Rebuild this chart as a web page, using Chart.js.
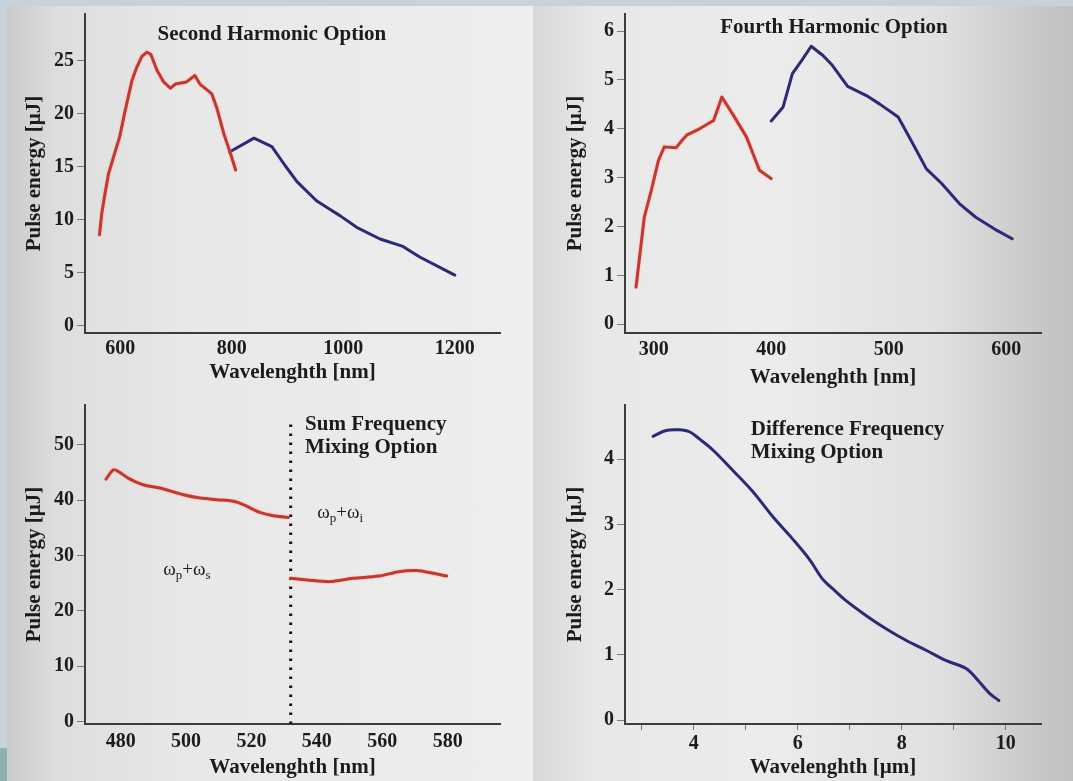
<!DOCTYPE html>
<html>
<head>
<meta charset="utf-8">
<script src="https://cdn.jsdelivr.net/npm/chart.js@4.4.1/dist/chart.umd.min.js"></script>
<style>
  html, body { margin: 0; padding: 0; }
  body { width: 1073px; height: 781px; position: relative; overflow: hidden; background: #c6d3d9; }
  .bg { position: absolute; top: 6px; bottom: 0; }
  #bgLeft { left: 7px; width: 526px; background: linear-gradient(to right, #cbcbcb 0%, #dedede 10%, #e8e8e8 35%, #eeeeee 100%); }
  #bgRight { left: 533px; width: 540px; background: linear-gradient(to right, #d8d8d8 0%, #e8e8e8 12%, #ececec 45%, #e0e0e0 75%, #c0c0c0 100%); }
  #corner { position: absolute; left: 0; top: 748px; width: 7px; height: 33px; background: #8db1b1; }
  .panel { position: absolute; }
</style>
</head>
<body>
<div class="bg" id="bgLeft"></div>
<div class="bg" id="bgRight"></div>
<div id="corner"></div>

<div class="panel" style="left:0;top:0"><canvas id="c1" width="533" height="392"></canvas></div>
<div class="panel" style="left:533px;top:0"><canvas id="c2" width="540" height="392"></canvas></div>
<div class="panel" style="left:0;top:392px"><canvas id="c3" width="533" height="389"></canvas></div>
<div class="panel" style="left:533px;top:392px"><canvas id="c4" width="540" height="389"></canvas></div>

<script>
/* ===============================
   DATA
================================= */
// Second harmonic option
const shRedX  = [563, 567, 573, 579, 588, 599, 609, 621, 630, 639, 648, 655, 666, 678, 690, 699, 719, 734, 743, 764, 773, 786, 797, 807];
const shRedY  = [8.6, 10.6, 12.5, 14.3, 15.9, 17.8, 20.3, 23.1, 24.4, 25.4, 25.8, 25.6, 24.1, 23.0, 22.4, 22.8, 23.0, 23.6, 22.8, 21.9, 20.6, 18.1, 16.4, 14.7];
const shBlueX = [796, 840, 872, 896, 917, 952, 973, 994, 1024, 1066, 1107, 1137, 1200];
const shBlueY = [16.4, 17.7, 16.9, 15.1, 13.6, 11.8, 11.1, 10.4, 9.3, 8.2, 7.5, 6.5, 4.8];
const shXTicks = [600, 800, 1000, 1200];
const shYTicks = [0, 5, 10, 15, 20, 25];

// Fourth harmonic option
const fhRedX  = [285, 292, 298, 304, 309, 319, 324, 328, 339, 351, 358, 368, 379, 390, 400];
const fhRedY  = [0.76, 2.19, 2.74, 3.35, 3.63, 3.61, 3.76, 3.87, 4.0, 4.17, 4.65, 4.27, 3.83, 3.15, 2.98];
const fhBlueX = [400, 410, 418, 426, 434, 444, 452, 465, 481, 492, 508, 519, 532, 545, 560, 574, 592, 605];
const fhBlueY = [4.16, 4.44, 5.13, 5.40, 5.69, 5.50, 5.30, 4.87, 4.68, 4.51, 4.24, 3.76, 3.18, 2.88, 2.47, 2.19, 1.92, 1.75];
const fhXTicks = [300, 400, 500, 600];
const fhYTicks = [0, 1, 2, 3, 4, 5, 6];

// Sum frequency mixing option
const sfSignalX = [475.5, 477.8, 479.3, 482.3, 486.9, 492, 499.2, 504.3, 509.4, 514.5, 517.5, 522.6, 526.7, 531.3];
const sfSignalY = [43.8, 45.5, 45.2, 44.0, 42.8, 42.2, 41.0, 40.4, 40.1, 39.8, 39.2, 37.8, 37.2, 36.9];
const sfIdlerX  = [532, 537, 544, 551, 559, 565, 570.5, 575.6, 579.7];
const sfIdlerY  = [25.9, 25.6, 25.3, 25.9, 26.3, 27.1, 27.3, 26.8, 26.3];
const sfDividerX = [532, 532];
const sfDividerY = [-0.4, 54.5];
const sfXTicks = [480, 500, 520, 540, 560, 580];
const sfYTicks = [0, 10, 20, 30, 40, 50];

// Difference frequency mixing option
const dfX = [3.22, 3.47, 3.72, 3.92, 4.11, 4.37, 4.75, 5.14, 5.52, 5.91, 6.23, 6.48, 6.68, 6.93, 7.32, 7.70, 8.09, 8.47, 8.86, 9.24, 9.50, 9.69, 9.87];
const dfY = [4.35, 4.44, 4.45, 4.42, 4.31, 4.14, 3.83, 3.50, 3.12, 2.77, 2.46, 2.16, 2.01, 1.83, 1.60, 1.40, 1.22, 1.07, 0.91, 0.79, 0.58, 0.41, 0.30];
const dfXTicks = [3, 4, 5, 6, 7, 8, 9, 10];
const dfYTicks = [0, 1, 2, 3, 4];

const Y_TITLE = 'Pulse energy [µJ]';
const X_TITLE_NM = 'Wavelenghth [nm]';
const X_TITLE_UM = 'Wavelenghth [µm]';

/* ===============================
   STYLE
================================= */
const SERIF = '"Liberation Serif", "Times New Roman", serif';
const RED = '#c9362c';
const BLUE = '#2b2a78';
const INK = '#1c1c1c';
const REDHALO = 'rgba(240,140,130,0.55)';

function series(xs, ys, color, extra) {
    return Object.assign({
        data: xs.map((x, i) => ({ x: x, y: ys[i] })),
        borderColor: color,
        borderWidth: 3,
        pointRadius: 0,
        tension: 0,
        fill: false,
        borderJoinStyle: 'round',
        borderCapStyle: 'round'
    }, extra || {});
}

// soft halo around the red curves, as in the scanned figure
const lineHalo = {
    id: 'lineHalo',
    beforeDatasetDraw(chart, args) {
        const halo = chart.data.datasets[args.index].halo;
        if (!halo) return;
        chart.ctx.save();
        chart.ctx.shadowColor = halo;
        chart.ctx.shadowBlur = 2;
    },
    afterDatasetDraw(chart, args) {
        if (chart.data.datasets[args.index].halo) chart.ctx.restore();
    }
};

// text placed in data coordinates, runs allow subscripts
const panelText = {
    id: 'panelText',
    afterDatasetsDraw(chart, args, opts) {
        const ctx = chart.ctx;
        const sx = chart.scales.x, sy = chart.scales.y;
        (opts.items || []).forEach(item => {
            const runs = item.runs || [{ t: item.text }];
            const mainFont = item.font || 'bold 21px ' + SERIF;
            const subFont = '13px ' + SERIF;
            ctx.save();
            ctx.fillStyle = INK;
            ctx.textBaseline = 'middle';
            let total = 0;
            runs.forEach(r => {
                ctx.font = r.sub ? subFont : mainFont;
                r.w = ctx.measureText(r.t).width;
                total += r.w;
            });
            let x = sx.getPixelForValue(item.x);
            const y = sy.getPixelForValue(item.y);
            if (item.align === 'center') x -= total / 2;
            runs.forEach(r => {
                ctx.font = r.sub ? subFont : mainFont;
                ctx.fillText(r.t, x, r.sub ? y + 6 : y);
                x += r.w;
            });
            ctx.restore();
        });
    }
};

function makePanel(id, p) {
    const tickFont = { family: SERIF, size: 20, weight: 'bold' };
    const titleFont = { family: SERIF, size: 21, weight: 'bold' };
    return new Chart(document.getElementById(id), {
        type: 'line',
        data: { datasets: p.datasets },
        plugins: [lineHalo, panelText],
        options: {
            responsive: false,
            animation: false,
            events: [],
            layout: { padding: { top: p.padTop, right: p.padRight, left: 0, bottom: 0 } },
            plugins: {
                legend: { display: false },
                tooltip: { enabled: false },
                panelText: { items: p.texts }
            },
            scales: {
                x: {
                    type: 'linear',
                    min: p.xMin, max: p.xMax,
                    afterBuildTicks: s => { s.ticks = p.xTicks.map(v => ({ value: v })); },
                    afterFit: s => { s.height = p.xH; s.paddingLeft = 0; s.paddingRight = 0; },
                    grid: { drawOnChartArea: false, drawTicks: !!p.xTickMarks, tickLength: 6, color: '#7a7a7a', lineWidth: 1 },
                    border: { display: true, color: '#3c3c3c', width: 2 },
                    ticks: {
                        color: INK, font: tickFont, padding: p.xLabelPad, maxRotation: 0,
                        callback: p.xLabel || (v => String(v))
                    },
                    title: { display: true, text: p.xTitle, color: INK, font: titleFont, padding: { top: 0, bottom: p.xTitlePad } }
                },
                y: {
                    type: 'linear',
                    min: p.yMin, max: p.yMax,
                    afterBuildTicks: s => { s.ticks = p.yTicks.map(v => ({ value: v })); },
                    afterFit: s => { s.width = p.yW; s.paddingTop = 0; s.paddingBottom = 0; },
                    grid: { drawOnChartArea: false, drawTicks: true, tickLength: 8, color: '#7a7a7a', lineWidth: 1 },
                    border: { display: true, color: '#3c3c3c', width: 2 },
                    ticks: { color: INK, font: tickFont, padding: 3, callback: v => String(v) },
                    title: { display: true, text: Y_TITLE, color: INK, font: titleFont, padding: { top: p.yTitlePad, bottom: 0 } }
                }
            }
        }
    });
}

/* ===============================
   PANELS
================================= */
makePanel('c1', {
    datasets: [series(shRedX, shRedY, RED, { halo: REDHALO }), series(shBlueX, shBlueY, BLUE)],
    xMin: 537, xMax: 1281, yMin: -0.66, yMax: 29.4,
    xTicks: shXTicks, yTicks: shYTicks,
    padTop: 14, padRight: 33, yW: 85, xH: 59,
    xLabelPad: 4, xTitle: X_TITLE_NM, xTitlePad: 7, yTitlePad: 22,
    texts: [{ x: 872, y: 27.5, text: 'Second Harmonic Option', align: 'center' }]
});

makePanel('c2', {
    datasets: [series(fhRedX, fhRedY, RED, { halo: REDHALO }), series(fhBlueX, fhBlueY, BLUE)],
    xMin: 275.6, xMax: 629.5, yMin: -0.18, yMax: 6.35,
    xTicks: fhXTicks, yTicks: fhYTicks,
    padTop: 14, padRight: 32, yW: 92, xH: 59,
    xLabelPad: 5, xTitle: X_TITLE_NM, xTitlePad: 2, yTitlePad: 30,
    texts: [{ x: 453.4, y: 6.07, text: 'Fourth Harmonic Option', align: 'center' }]
});

makePanel('c3', {
    datasets: [
        series(sfSignalX, sfSignalY, RED, { tension: 0.3, halo: REDHALO }),
        series(sfIdlerX, sfIdlerY, RED, { tension: 0.3, halo: REDHALO }),
        series(sfDividerX, sfDividerY, '#111111', { borderDash: [2.5, 6.5], borderCapStyle: 'butt', borderWidth: 3 })
    ],
    xMin: 469.1, xMax: 596, yMin: -0.42, yMax: 57.2,
    xTicks: sfXTicks, yTicks: sfYTicks,
    padTop: 13, padRight: 33, yW: 85, xH: 57,
    xLabelPad: 6, xTitle: X_TITLE_NM, xTitlePad: 1, yTitlePad: 22,
    texts: [
        { x: 536.4, y: 53.6, text: 'Sum Frequency' },
        { x: 536.4, y: 49.5, text: 'Mixing Option' },
        { x: 540.1, y: 37.7, font: '19px ' + SERIF, runs: [{ t: 'ω' }, { t: 'p', sub: true }, { t: '+ω' }, { t: 'i', sub: true }] },
        { x: 493, y: 27.4, font: '19px ' + SERIF, runs: [{ t: 'ω' }, { t: 'p', sub: true }, { t: '+ω' }, { t: 's', sub: true }] }
    ]
});

makePanel('c4', {
    datasets: [series(dfX, dfY, BLUE, { tension: 0.35 })],
    xMin: 2.68, xMax: 10.68, yMin: -0.06, yMax: 4.83,
    xTicks: dfXTicks, yTicks: dfYTicks, xTickMarks: true,
    xLabel: v => (v % 2 === 0 ? String(v) : ''),
    padTop: 13, padRight: 32, yW: 92, xH: 57,
    xLabelPad: 2, xTitle: X_TITLE_UM, xTitlePad: 1, yTitlePad: 30,
    texts: [
        { x: 5.10, y: 4.46, text: 'Difference Frequency' },
        { x: 5.10, y: 4.10, text: 'Mixing Option' }
    ]
});
</script>
</body>
</html>
